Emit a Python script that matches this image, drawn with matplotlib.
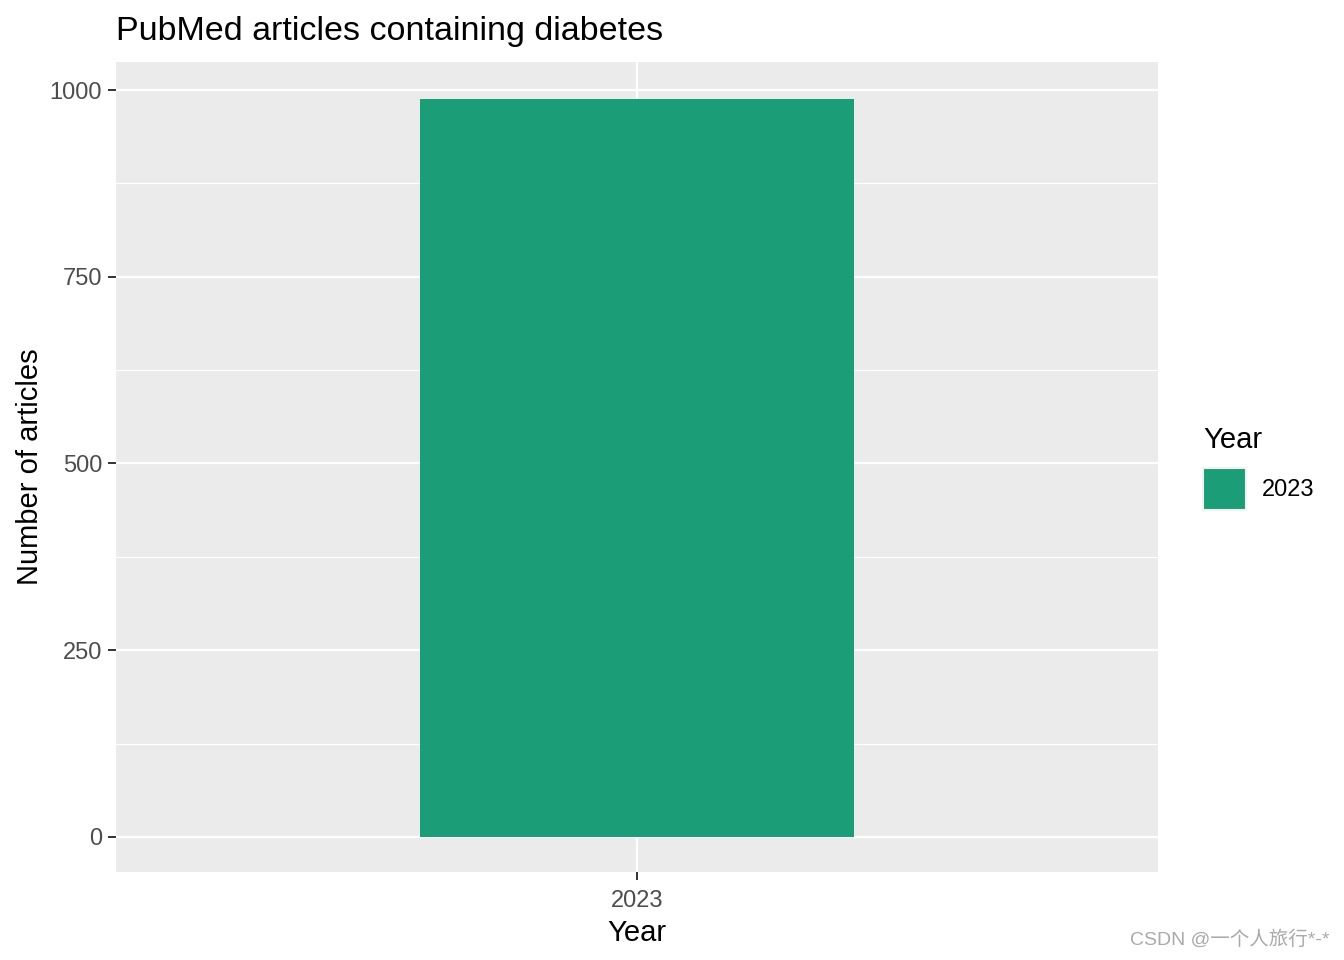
import matplotlib
matplotlib.use('Agg')
import matplotlib.pyplot as plt
from matplotlib.patches import Rectangle

## Data
years = ['2023']
counts = [988]
bar_color = '#1B9E77'

plt.rcParams['font.family'] = ['Liberation Sans', 'DejaVu Sans']

fig = plt.figure(figsize=(13.44, 9.6), dpi=100)
ax = fig.add_axes([116/1344, 88/960, (1158-116)/1344, (872-62)/960])
ax.set_facecolor('#EBEBEB')

xpos = list(range(len(years)))
ax.bar(xpos, counts, width=0.5, color=bar_color, zorder=3)

ax.set_xlim(-0.6, 0.6)
ax.set_ylim(-46.9, 1037.5)
ax.set_yticks([0, 250, 500, 750, 1000])
ax.set_yticks([125, 375, 625, 875], minor=True)
ax.set_xticks(xpos)
ax.set_xticklabels(years)

ax.grid(which='major', color='white', linewidth=1.6, zorder=1)
ax.grid(which='minor', axis='y', color='white', linewidth=0.8, zorder=1)
for s in ax.spines.values():
    s.set_visible(False)
ax.tick_params(which='major', length=6, width=1.4, color='#333333',
               labelcolor='#4D4D4D', labelsize=17, pad=4)
ax.tick_params(axis='x', pad=7)
ax.tick_params(which='minor', length=0)

ax.set_xlabel('Year', fontsize=21, labelpad=5)
ax.set_ylabel('Number of articles', fontsize=21, labelpad=4)
ax.set_title('PubMed articles containing diabetes', fontsize=24.5, loc='left', pad=16)

## Legend drawn by hand in figure coordinates
fig.text(1203/1344, 1 - 440/960, 'Year', fontsize=21, va='center', ha='left')
fig.patches.append(Rectangle((1203/1344, 1 - 510/960), 43/1344, 42/960,
                             transform=fig.transFigure, facecolor=bar_color,
                             edgecolor='#F2F2F2', linewidth=1.5))
fig.text(1262/1344, 1 - 490/960, years[0], fontsize=17, va='center', ha='left')

## Watermark
fig.text(1329/1344, 1 - 940/960, 'CSDN @一个人旅行*-*', fontsize=14, color='#AAAAAA',
         ha='right', va='center', family=['Liberation Sans', 'Noto Sans CJK SC'])

fig.savefig('out.png', dpi=100)
